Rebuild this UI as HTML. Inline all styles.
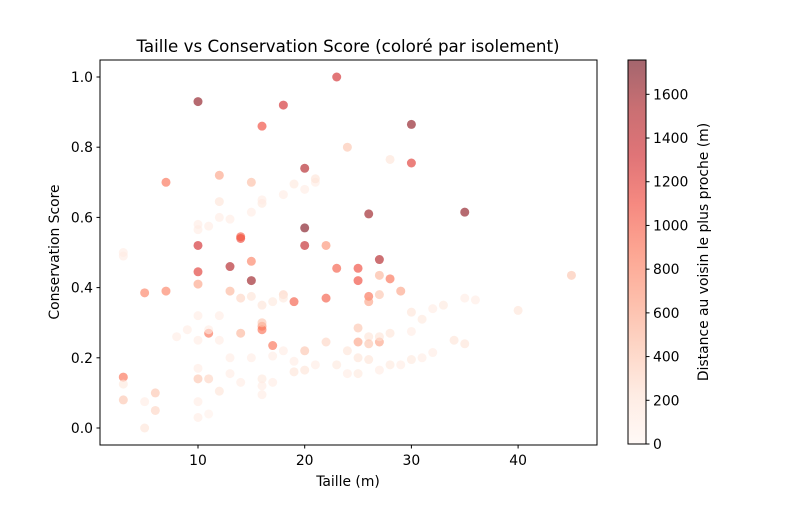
<!DOCTYPE html>
<html><head><meta charset="utf-8">
<style>
body{margin:0;background:#fff;font-family:"Liberation Sans","DejaVu Sans",sans-serif;}
svg text{font-family:"DejaVu Sans","Liberation Sans",sans-serif;fill:#000;}
</style></head>
<body>
<svg id="chart" width="800" height="500" viewBox="0 0 800 500">
<defs>
<linearGradient id="cbgrad" x1="0" y1="1" x2="0" y2="0">
<stop offset="0" stop-color="#fff5f0"/><stop offset="0.125" stop-color="#fee0d2"/>
<stop offset="0.25" stop-color="#fcbba1"/><stop offset="0.375" stop-color="#fc9272"/>
<stop offset="0.5" stop-color="#fb6a4a"/><stop offset="0.625" stop-color="#ef3b2c"/>
<stop offset="0.75" stop-color="#cb181d"/><stop offset="0.875" stop-color="#a50f15"/>
<stop offset="1" stop-color="#67000d"/>
</linearGradient>
</defs>
<text x="348" y="52" font-size="16.7" text-anchor="middle">Taille vs Conservation Score (coloré par isolement)</text>
<g id="points"></g>
<rect x="100" y="60" width="497" height="385" fill="none" stroke="#000" stroke-width="1"/>
<g id="xticks"></g>
<g id="yticks"></g>
<text x="348" y="486" font-size="13.9" text-anchor="middle">Taille (m)</text>
<text transform="translate(59,252) rotate(-90)" font-size="13.9" text-anchor="middle">Conservation Score</text>
<rect x="628" y="60" width="18" height="384" fill="url(#cbgrad)" fill-opacity="0.6" stroke="#000" stroke-width="1"/>
<g id="cbticks"></g>
<text transform="translate(708,252) rotate(-90)" font-size="13.9" text-anchor="middle">Distance au voisin le plus proche (m)</text>
</svg>
<script>
const xs=[10,18,23,16,30,30,20,7,12,15,24,28,20,26,35,10,20,14,14,22,27,13,10,15,15,23,25,25,28,27,27,29,26,26,22,19,5,7,10,13,14,15,16,17,18,18,16,16,14,11,11,9,8,17,16,20,22,25,25,24,26,26,27,27,28,30,31,30,32,33,35,36,40,45,34,35,32,31,30,29,28,27,25,24,26,25,23,21,20,19,19,18,17,15,13,12,10,10,16,16,16,17,12,11,10,14,13,10,11,10,6,6,5,5,3,3,3,3,3,10,10,11,12,12,13,15,16,16,18,19,20,21,21,12,10];
const ys=[0.93,0.92,1.0,0.86,0.865,0.755,0.74,0.70,0.72,0.70,0.80,0.765,0.57,0.61,0.615,0.52,0.52,0.54,0.545,0.52,0.48,0.46,0.445,0.475,0.42,0.455,0.455,0.42,0.425,0.435,0.38,0.39,0.375,0.36,0.37,0.36,0.385,0.39,0.41,0.39,0.37,0.375,0.35,0.36,0.38,0.37,0.29,0.28,0.27,0.27,0.28,0.28,0.26,0.235,0.30,0.22,0.245,0.285,0.245,0.22,0.26,0.24,0.245,0.26,0.27,0.33,0.31,0.275,0.34,0.35,0.37,0.365,0.335,0.435,0.25,0.24,0.215,0.20,0.195,0.18,0.18,0.165,0.155,0.155,0.195,0.20,0.18,0.18,0.165,0.16,0.19,0.22,0.205,0.20,0.20,0.25,0.25,0.17,0.14,0.12,0.095,0.13,0.105,0.14,0.14,0.13,0.155,0.075,0.04,0.03,0.10,0.05,0.075,0.0,0.145,0.125,0.08,0.50,0.49,0.565,0.58,0.575,0.60,0.645,0.595,0.615,0.64,0.65,0.665,0.695,0.68,0.70,0.71,0.32,0.32];
const ds=[1650,1300,1300,1100,1650,1200,1500,900,600,450,400,200,1700,1600,1650,1300,1400,1100,1000,700,1500,1500,1200,800,1600,1000,1100,1100,900,500,400,600,900,600,1000,1000,800,800,600,500,300,200,200,150,300,150,700,900,500,900,100,100,100,900,400,400,300,400,600,200,200,400,600,200,200,200,150,100,100,150,100,100,200,400,200,200,100,100,150,100,150,100,150,100,200,200,150,100,200,200,100,100,100,100,100,100,100,100,150,100,100,100,200,300,400,100,100,100,50,100,400,300,100,200,900,150,400,100,100,100,100,100,100,200,100,100,150,100,100,150,100,100,200,100,100];
const xTicks=[10,20,30,40];
const yTicks=[0.0,0.2,0.4,0.6,0.8,1.0];
const cbTicks=[0,200,400,600,800,1000,1200,1400,1600];
const VMAX=1757;
const X=v=>91.3+v*10.67;
const Y=v=>428-v*351;
const CB=v=>444-v*(384/VMAX);
const stops=[[255,245,240],[254,224,210],[252,187,161],[252,146,114],[251,106,74],[239,59,44],[203,24,29],[165,15,21],[103,0,13]];
function cmap(d){let t=Math.max(0,Math.min(1,d/VMAX))*8;let i=Math.min(7,Math.floor(t));let f=t-i;
 const a=stops[i],b=stops[i+1];return 'rgb('+a.map((c,k)=>Math.round(c+(b[k]-c)*f)).join(',')+')';}
const NS='http://www.w3.org/2000/svg';
function mk(tag,attrs,parent){const e=document.createElementNS(NS,tag);for(const k in attrs)e.setAttribute(k,attrs[k]);parent.appendChild(e);return e;}
const pg=document.getElementById('points');
for(let i=0;i<xs.length;i++){
 const c=mk('circle',{cx:X(xs[i]),cy:Y(ys[i]),r:4.5,fill:cmap(ds[i]),'fill-opacity':0.6},pg);
 
 
}
const xg=document.getElementById('xticks');
xTicks.forEach(v=>{
 const l=mk('line',{x1:X(v),x2:X(v),y1:445,y2:448.5,stroke:'#000'},xg);
 
 
 const t=mk('text',{x:X(v),y:465,'font-size':13.9,'text-anchor':'middle'},xg);t.textContent=v;
 
 
});
const yg=document.getElementById('yticks');
yTicks.forEach(v=>{
 const l=mk('line',{x1:96.5,x2:100,y1:Y(v),y2:Y(v),stroke:'#000'},yg);
 
 
 const t=mk('text',{x:93,y:Y(v)+5,'font-size':13.9,'text-anchor':'end'},yg);t.textContent=v.toFixed(1);
 
 
});
const cg=document.getElementById('cbticks');
cbTicks.forEach(v=>{
 const l=mk('line',{x1:646,x2:649.5,y1:CB(v),y2:CB(v),stroke:'#000'},cg);
 
 
 const t=mk('text',{x:653,y:CB(v)+5,'font-size':13.9},cg);t.textContent=v;
 
 
});
</script>
</body></html>
